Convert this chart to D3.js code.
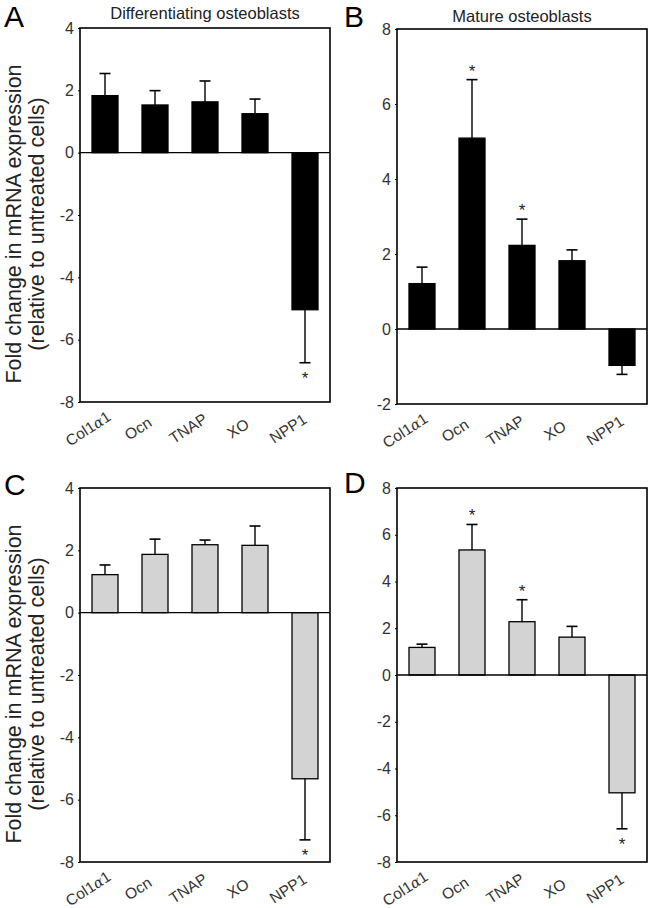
<!DOCTYPE html>
<html><head><meta charset="utf-8">
<script src="https://cdn.jsdelivr.net/npm/d3@7"></script>
<style>body{margin:0;background:#fff}svg{display:block}text{font-family:"Liberation Sans",Arial,sans-serif}</style>
</head><body>
<script>
const categories = ["Col1α1","Ocn","TNAP","XO","NPP1"];
// mean fold change and error-bar ends (one-sided)
const meanA = [1.83, 1.53, 1.63, 1.25, -5.04];
const errEndA = [2.54, 1.99, 2.30, 1.72, -6.74];
const sigA = [false,false,false,false,true];
const meanB = [1.21, 5.09, 2.23, 1.82, -0.97];
const errEndB = [1.65, 6.65, 2.93, 2.11, -1.21];
const sigB = [false,true,true,false,false];
const meanC = [1.22, 1.87, 2.18, 2.16, -5.33];
const errEndC = [1.53, 2.36, 2.33, 2.78, -7.29];
const sigC = [false,false,false,false,true];
const meanD = [1.18, 5.35, 2.28, 1.62, -5.04];
const errEndD = [1.32, 6.44, 3.22, 2.08, -6.58];
const sigD = [false,true,true,false,true];
const ticksA = [4,2,0,-2,-4,-6,-8];
const ticksB = [8,6,4,2,0,-2];
const ticksD = [8,6,4,2,0,-2,-4,-6,-8];

const W=650,H=908;
const svg=d3.select("body").append("svg").attr("width",W).attr("height",H);

function panel(o){
  const g=svg.append("g");
  const x=d3.scaleBand().domain(categories).range([o.x0,o.x1]).paddingInner(0.48).paddingOuter(0.24);
  const y=d3.scaleLinear().domain(o.domain).range([o.y1,o.y0]);
  const bw=x.bandwidth();
  g.selectAll("rect.bar").data(o.mean).enter().append("rect")
    .attr("x",(d,i)=>x(categories[i]))
    .attr("y",d=>y(Math.max(0,d)))
    .attr("width",bw)
    .attr("height",d=>Math.abs(y(d)-y(0)))
    .attr("fill",o.fill).attr("stroke","#000").attr("stroke-width",1.3);
  o.err.forEach((e,i)=>{
    const cx=x(categories[i])+bw/2;
    g.append("line").attr("x1",cx).attr("x2",cx).attr("y1",y(o.mean[i])).attr("y2",y(e)).attr("stroke","#000").attr("stroke-width",1.4);
    g.append("line").attr("x1",cx-5.5).attr("x2",cx+5.5).attr("y1",y(e)).attr("y2",y(e)).attr("stroke","#000").attr("stroke-width",1.6);
    if(o.sig[i]){
      const up=e>0;
      g.append("text").attr("x",cx).attr("y",up?y(e)-3:y(e)+21).attr("text-anchor","middle")
        .attr("font-size",17).attr("fill","#222").text("*");
    }
  });
  g.append("line").attr("x1",o.x0).attr("x2",o.x1).attr("y1",y(0)).attr("y2",y(0)).attr("stroke","#000").attr("stroke-width",1.3);
  g.append("rect").attr("x",o.x0).attr("y",o.y0).attr("width",o.x1-o.x0).attr("height",o.y1-o.y0)
    .attr("fill","none").attr("stroke","#000").attr("stroke-width",1.6);
  const ax=d3.axisLeft(y).tickValues(o.ticks).tickSize(2).tickPadding(4).tickFormat(d=>String(d));
  const ag=g.append("g").attr("transform",`translate(${o.x0},0)`).call(ax);
  ag.select(".domain").remove();
  ag.selectAll("text").attr("font-size",16).attr("fill","#333").attr("font-family","Liberation Sans, Arial, sans-serif");
  ag.selectAll("line").attr("stroke","#000");
  // x category labels, rotated
  const lg=g.append("g");
  categories.forEach((c,i)=>{
    const cx=x(c)+bw/2-14, cy=o.y1+31;
    const holder=lg.append("g").attr("transform",`translate(${cx},${cy})`);
    const t=holder.append("text").attr("transform","rotate(-33)").attr("text-anchor","middle")
      .attr("font-size",15.5).attr("fill","#333");
    if(c==="Col1α1"){
      t.append("tspan").text("Col1");
      t.append("tspan").attr("font-family","DejaVu Serif, serif").attr("font-style","italic").attr("font-size",14.5).text("α");
      t.append("tspan").text("1");
    } else t.text(c);
  });
  svg.append("text").attr("x",o.lx).attr("y",o.ly).attr("font-size",30).attr("fill","#000").text(o.letter);
  if(o.title) svg.append("text").attr("x",(o.x0+o.x1)/2).attr("y",o.ty).attr("text-anchor","middle")
    .attr("font-size",16.5).attr("fill","#222").text(o.title);
  if(o.ylab){
    const cy=(o.y0+o.y1)/2+9;
    svg.append("text").attr("transform",`translate(21,${cy}) rotate(-90)`).attr("text-anchor","middle")
      .attr("font-size",21.5).attr("fill","#222").text("Fold change in mRNA expression");
    svg.append("text").attr("transform",`translate(44,${cy}) rotate(-90)`).attr("text-anchor","middle")
      .attr("font-size",21.5).attr("fill","#222").text("(relative to untreated cells)");
  }
}

panel({x0:80,x1:330,y0:28,y1:402,domain:[-8,4],ticks:ticksA,mean:meanA,err:errEndA,sig:sigA,fill:"#000",
  letter:"A",lx:4,ly:27,title:"Differentiating osteoblasts",ty:19,ylab:true});
panel({x0:397,x1:647,y0:29,y1:404,domain:[-2,8],ticks:ticksB,mean:meanB,err:errEndB,sig:sigB,fill:"#000",
  letter:"B",lx:344,ly:27,title:"Mature osteoblasts",ty:22});
panel({x0:80,x1:330,y0:488,y1:862,domain:[-8,4],ticks:ticksA,mean:meanC,err:errEndC,sig:sigC,fill:"#d3d3d3",
  letter:"C",lx:4,ly:495,ylab:true});
panel({x0:397,x1:647,y0:488,y1:862,domain:[-8,8],ticks:ticksD,mean:meanD,err:errEndD,sig:sigD,fill:"#d3d3d3",
  letter:"D",lx:344,ly:493});
</script>
</body></html>
